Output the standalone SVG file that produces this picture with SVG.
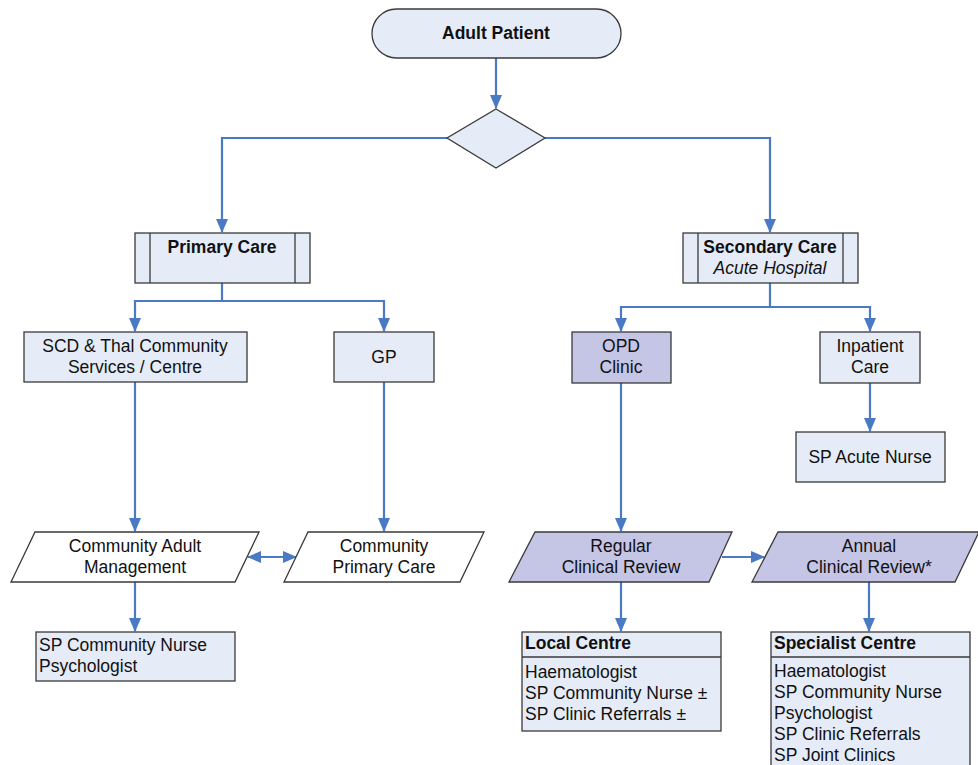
<svg xmlns="http://www.w3.org/2000/svg" width="978" height="765" viewBox="0 0 978 765">
<defs>
<marker id="ah" markerUnits="userSpaceOnUse" markerWidth="14" markerHeight="14" viewBox="0 0 14 14" refX="13" refY="7" orient="auto-start-reverse">
<path d="M0,1 L14,7 L0,13 Z" fill="#4a7ac4"/>
</marker>
<style>
.b{fill:#e6ecf7;stroke:#3a3a3a;stroke-width:1.3}
.p{fill:#c5c5e6;stroke:#3a3a3a;stroke-width:1.3}
.w{fill:#ffffff;stroke:#3a3a3a;stroke-width:1.3}
.c{fill:none;stroke:#4a7ac4;stroke-width:2.2}
text{font-family:"Liberation Sans",Arial,sans-serif;font-size:17.5px;fill:#111}
.m{text-anchor:middle}
.bold{font-weight:bold}
.it{font-style:italic}
</style>
</defs>
<rect width="978" height="765" fill="#ffffff"/>
<g id="connectors">
<path class="c" d="M496,58 V108" marker-end="url(#ah)"/>
<path class="c" d="M447,138 H222 V232" marker-end="url(#ah)"/>
<path class="c" d="M545,138 H770 V232" marker-end="url(#ah)"/>
<path class="c" d="M222,283 V301 H135 V331" marker-end="url(#ah)"/>
<path class="c" d="M222,301 H384 V331" marker-end="url(#ah)"/>
<path class="c" d="M770,283 V307 H621 V331" marker-end="url(#ah)"/>
<path class="c" d="M770,307 H870 V331" marker-end="url(#ah)"/>
<path class="c" d="M870,383 V431" marker-end="url(#ah)"/>
<path class="c" d="M135,382 V531" marker-end="url(#ah)"/>
<path class="c" d="M384,382 V531" marker-end="url(#ah)"/>
<path class="c" d="M621,383 V531" marker-end="url(#ah)"/>
<path class="c" d="M248,557 H296" marker-start="url(#ah)" marker-end="url(#ah)"/>
<path class="c" d="M722,557 H764" marker-end="url(#ah)"/>
<path class="c" d="M135,582 V631" marker-end="url(#ah)"/>
<path class="c" d="M621,582 V631" marker-end="url(#ah)"/>
<path class="c" d="M869,582 V631" marker-end="url(#ah)"/>
</g>
<g id="adult-patient">
<rect class="b" x="372" y="9" width="249" height="49" rx="24.5"/>
<text class="m bold" x="496" y="39">Adult Patient</text>
</g>
<g id="decision">
<polygon class="b" points="496,109 545,138 496,168 447,138"/>
</g>
<g id="primary-care">
<rect class="b" x="135" y="233" width="175" height="50"/>
<line x1="150" y1="233" x2="150" y2="283" stroke="#3a3a3a" stroke-width="1.3"/>
<line x1="295" y1="233" x2="295" y2="283" stroke="#3a3a3a" stroke-width="1.3"/>
<text class="m bold" x="222" y="253">Primary Care</text>
</g>
<g id="secondary-care">
<rect class="b" x="683" y="233" width="175" height="50"/>
<line x1="698" y1="233" x2="698" y2="283" stroke="#3a3a3a" stroke-width="1.3"/>
<line x1="843" y1="233" x2="843" y2="283" stroke="#3a3a3a" stroke-width="1.3"/>
<text class="m bold" x="770" y="253">Secondary Care</text>
<text class="m it" x="770" y="274">Acute Hospital</text>
</g>
<g id="scd-thal">
<rect class="b" x="24" y="332" width="223" height="50"/>
<text class="m" x="135" y="352">SCD &amp; Thal Community</text>
<text class="m" x="135" y="373">Services / Centre</text>
</g>
<g id="gp">
<rect class="b" x="334" y="332" width="100" height="50"/>
<text class="m" x="384" y="363">GP</text>
</g>
<g id="opd-clinic">
<rect class="p" x="572" y="332" width="99" height="51"/>
<text class="m" x="621" y="352">OPD</text>
<text class="m" x="621" y="373">Clinic</text>
</g>
<g id="inpatient-care">
<rect class="b" x="820" y="332" width="100" height="51"/>
<text class="m" x="870" y="352">Inpatient</text>
<text class="m" x="870" y="373">Care</text>
</g>
<g id="sp-acute-nurse">
<rect class="b" x="796" y="432" width="149" height="50"/>
<text class="m" x="870" y="463">SP Acute Nurse</text>
</g>
<g id="community-adult-management">
<polygon class="w" points="35,532 259,532 235,582 11,582"/>
<text class="m" x="135" y="552">Community Adult</text>
<text class="m" x="135" y="573">Management</text>
</g>
<g id="community-primary-care">
<polygon class="w" points="308,532 484,532 460,582 284,582"/>
<text class="m" x="384" y="552">Community</text>
<text class="m" x="384" y="573">Primary Care</text>
</g>
<g id="regular-clinical-review">
<polygon class="p" points="535,532 732,532 709,582 509,582"/>
<text class="m" x="621" y="552">Regular</text>
<text class="m" x="621" y="573">Clinical Review</text>
</g>
<g id="annual-clinical-review">
<polygon class="p" points="778,532 979,532 955,582 752,582"/>
<text class="m" x="869" y="552">Annual</text>
<text class="m" x="869" y="573">Clinical Review*</text>
</g>
<g id="sp-community-nurse">
<rect class="b" x="36" y="632" width="199" height="49"/>
<text x="39" y="651">SP Community Nurse</text>
<text x="39" y="672">Psychologist</text>
</g>
<g id="local-centre">
<rect class="b" x="522" y="632" width="199" height="99"/>
<line x1="522" y1="657" x2="721" y2="657" stroke="#3a3a3a" stroke-width="1.3"/>
<text class="bold" x="525" y="649">Local Centre</text>
<text x="525" y="678">Haematologist</text>
<text x="525" y="699">SP Community Nurse ±</text>
<text x="525" y="720">SP Clinic Referrals ±</text>
</g>
<g id="specialist-centre">
<rect class="b" x="771" y="632" width="199" height="140"/>
<line x1="771" y1="657" x2="970" y2="657" stroke="#3a3a3a" stroke-width="1.3"/>
<text class="bold" x="774" y="649">Specialist Centre</text>
<text x="774" y="677">Haematologist</text>
<text x="774" y="698">SP Community Nurse</text>
<text x="774" y="719">Psychologist</text>
<text x="774" y="740">SP Clinic Referrals</text>
<text x="774" y="761">SP Joint Clinics</text>
</g>
</svg>
